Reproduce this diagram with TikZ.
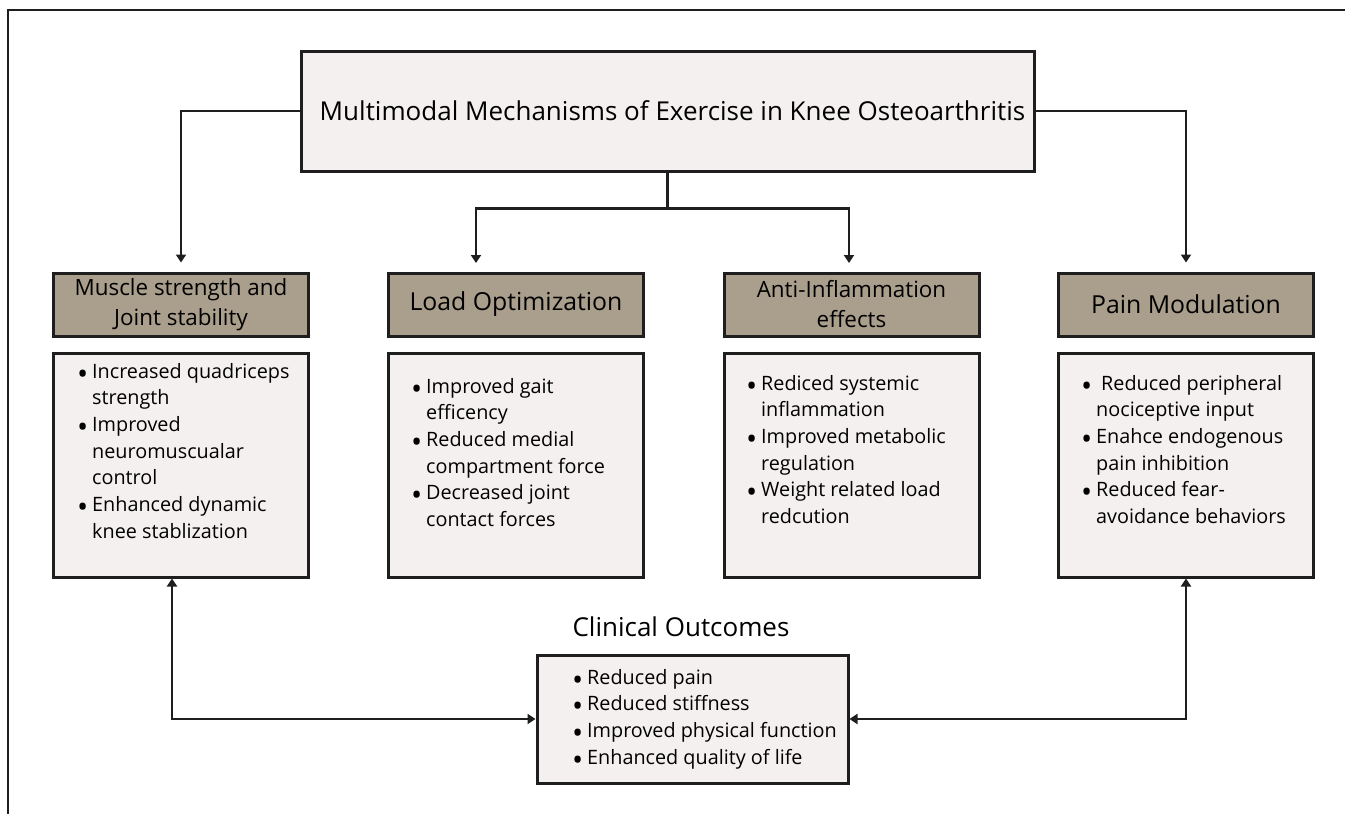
\documentclass[tikz,border=0pt]{standalone}
\usepackage{fontspec}
\setmainfont{Open Sans}
\usetikzlibrary{arrows.meta}
\definecolor{paper}{HTML}{F5F0F0}
\definecolor{taupe}{HTML}{AA9E8C}
\definecolor{ink}{HTML}{1E1E1E}
\newcommand{\bul}{\makebox[15pt][l]{\raisebox{-0.55ex}[0pt][0pt]{\scalebox{1.5}{\textbullet}}}}
\newcommand{\ind}{\hspace*{15pt}}
\tikzset{
  box/.style={draw=ink,line width=3pt,fill=paper,inner sep=0pt},
  head/.style={box,fill=taupe,minimum width=255pt,minimum height=63pt,
    align=center,font=\fontsize{24.8}{30}\selectfont},
  twohead/.style={head,font=\fontsize{22.4}{30}\selectfont},
  card/.style={box,minimum width=255pt,minimum height=224pt},
  list/.style={anchor=north west,inner sep=0pt,align=left,
    font=\fontsize{19.8}{26.67}\selectfont},
  wire/.style={draw=ink,line width=2.6pt},
  tip/.style={wire,-{Triangle[length=8pt,width=10pt]}},
  tips/.style={wire,{Triangle[length=8pt,width=10pt]}-{Triangle[length=8pt,width=10pt]}}
}
\begin{document}
\begin{tikzpicture}[x=1pt,y=-1pt]
  \useasboundingbox (0,0) rectangle (1345,814);
  \draw[ink,line width=1.2pt] (8,814) -- (8,10) -- (1345,10);
  \node[box,minimum width=733pt,minimum height=120pt,
    font=\fontsize{26}{30}\selectfont] (title) at (667.5,111)
    {\hspace*{10pt}Multimodal Mechanisms of Exercise in Knee Osteoarthritis};
  \node[twohead] (musH) at (181,304.5) {Muscle strength and\\Joint stability};
  \node[head] (loadH) at (516,304.5) {Load Optimization};
  \node[twohead] (antiH) at (851.5,304.5) {Anti-Inflammation\\effects};
  \node[head] (painH) at (1186,304.5) {Pain Modulation};
  \node[card] (musB) at (181,465) {};
  \node[card] (loadB) at (516,465) {};
  \node[card] (antiB) at (851.5,465) {};
  \node[card] (painB) at (1186,465) {};
  \node[list] (musL) at (77,363)
    {\bul Increased quadriceps\\\ind strength\\\bul Improved\\\ind neuromuscualar\\
     \ind control\\\bul Enhanced dynamic\\\ind knee stablization};
  \node[list] (loadL) at (411,378)
    {\bul Improved gait\\\ind efficency\\\bul Reduced medial\\
     \ind compartment force\\\bul Decreased joint\\\ind contact forces};
  \node[list] (antiL) at (746,375)
    {\bul Rediced systemic\\\ind inflammation\\\bul Improved metabolic\\
     \ind regulation\\\bul Weight related load\\\ind redcution};
  \node[list] (painL) at (1081,375)
    {\bul\hspace{5pt}Reduced peripheral\\\ind nociceptive input\\
     \bul Enahce endogenous\\\ind pain inhibition\\\bul Reduced fear-\\
     \ind avoidance behaviors};
  \node[font=\fontsize{26}{30}\selectfont] (clinT) at (681,627) {Clinical Outcomes};
  \node[box,minimum width=311pt,minimum height=128pt] (clin) at (692.5,719) {};
  \node[list] (clinL) at (572,669)
    {\bul Reduced pain\\\bul Reduced stiffness\\\bul Improved physical function\\
     \bul Enhanced quality of life};
  \coordinate (fork) at ([yshift=-36pt]title.south);
  \coordinate (loadIn) at (476,263);
  \coordinate (antiIn) at (849,263);
  \draw[tip] (title.west) -| ([yshift=9pt]musH.north);
  \draw[tip] (title.east) -| ([yshift=9pt]painH.north);
  \draw[wire] (title.south) -- (fork);
  \draw[tip] (fork) -| (loadIn);
  \draw[tip] (fork) -| (antiIn);
  \draw[tips] ([xshift=-9pt]musB.south) |- (clin.west);
  \draw[tips] (painB.south) |- (clin.east);
\end{tikzpicture}
\end{document}
